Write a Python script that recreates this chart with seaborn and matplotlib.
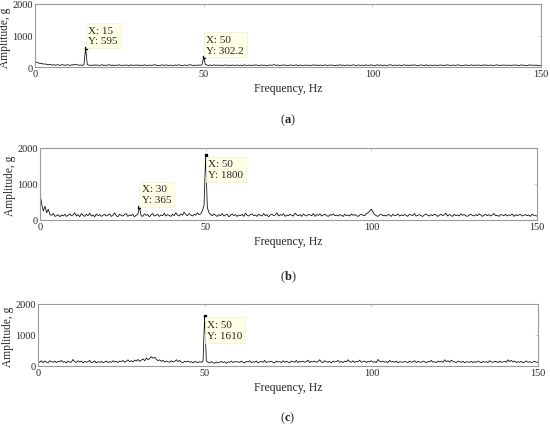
"""
Three vibration spectra (a), (b), (c) with MATLAB-style data tips.
"""

import numpy as np
import matplotlib
matplotlib.use("Agg")
import matplotlib.pyplot as plt
import seaborn as sns

# ---- data (amplitude in g, 0.5 Hz bins from 0 to 150 Hz) ----
freq_step = 0.5

amp_a = [
    180, 150, 130, 110, 120, 90, 100, 80, 70, 85, 60, 75, 55, 70, 65, 50, 80, 60, 55, 70,
    65, 50, 75, 60, 90, 70, 55, 65, 50, 70, 595, 80, 55, 60, 45, 70, 55, 65, 50, 60,
    70, 45, 60, 55, 75, 50, 65, 40, 60, 55, 70, 50, 45, 65, 55, 60, 40, 70, 50, 60,
    55, 65, 45, 60, 50, 70, 55, 45, 65, 50, 60, 75, 50, 55, 45, 65, 60, 50, 70, 45,
    60, 55, 45, 65, 50, 70, 60, 45, 55, 65, 50, 60, 75, 55, 45, 60, 50, 65, 55, 70,
    302.2, 80, 60, 50, 65, 45, 70, 55, 60, 50, 65, 45, 55, 70, 50, 60, 45, 65, 55, 50,
    65, 50, 60, 45, 70, 55, 50, 65, 45, 60, 55, 70, 50, 45, 65, 55, 60, 50, 45, 65,
    55, 60, 75, 50, 65, 45, 60, 55, 70, 50, 45, 60, 65, 50, 55, 70, 45, 60, 55, 50,
    65, 50, 60, 45, 55, 70, 50, 65, 45, 60, 55, 50, 70, 45, 60, 55, 65, 50, 45, 60,
    55, 70, 50, 60, 45, 65, 55, 50, 60, 70, 45, 55, 65, 50, 60, 45, 70, 55, 50, 65,
    60, 45, 55, 70, 50, 65, 45, 60, 55, 50, 65, 70, 45, 55, 60, 50, 65, 45, 55, 70,
    50, 60, 45, 65, 55, 70, 50, 45, 60, 65, 55, 50, 70, 45, 60, 55, 50, 65, 45, 60,
    55, 65, 50, 45, 70, 60, 55, 50, 65, 45, 60, 70, 50, 55, 45, 65, 60, 50, 55, 70,
    45, 60, 55, 65, 50, 45, 70, 55, 60, 50, 65, 45, 55, 60, 70, 50, 45, 65, 55, 60,
    50, 65, 45, 60, 55, 70, 50, 45, 65, 60, 55, 50, 45, 70, 55, 60, 50, 65, 45, 55,
    50,
]

amp_b = [
    720, 450, 250, 380, 200, 300, 150, 130, 180, 100, 120, 150, 90, 140, 110, 160, 100, 130, 170, 120,
    140, 200, 110, 150, 90, 180, 130, 100, 160, 120, 190, 110, 140, 90, 170, 120, 150, 100, 130, 160,
    110, 140, 170, 100, 130, 200, 120, 90, 160, 130, 110, 150, 180, 100, 140, 120, 160, 90, 130, 150,
    365, 120, 100, 170, 130, 150, 90, 140, 180, 110, 130, 160, 100, 140, 120, 190, 110, 150, 130, 100,
    160, 120, 200, 140, 110, 170, 130, 220, 150, 120, 180, 140, 110, 160, 130, 200, 150, 170, 250, 400,
    1800, 350, 200, 150, 120, 170, 130, 100, 150, 120, 180, 110, 140, 160, 90, 130, 170, 120, 150, 100,
    140, 120, 160, 100, 190, 130, 110, 150, 170, 120, 140, 100, 160, 130, 110, 180, 120, 150, 90, 140,
    160, 120, 140, 200, 110, 150, 130, 170, 100, 140, 120, 160, 130, 110, 190, 140, 120, 150, 100, 170,
    130, 110, 160, 140, 120, 180, 100, 150, 130, 170, 110, 140, 160, 120, 100, 150, 130, 170, 120, 140,
    110, 150, 130, 100, 160, 120, 140, 110, 170, 130, 150, 120, 100, 140, 160, 130, 120, 180, 200, 250,
    300, 220, 150, 120, 100, 140, 160, 120, 130, 110, 150, 140, 100, 160, 120, 130, 170, 110, 140, 120,
    150, 130, 100, 160, 140, 120, 180, 110, 130, 150, 120, 100, 140, 170, 130, 110, 150, 120, 160, 140,
    100, 130, 160, 120, 140, 190, 110, 150, 130, 100, 160, 120, 140, 110, 170, 130, 150, 120, 100, 140,
    160, 130, 110, 150, 120, 170, 140, 100, 130, 160, 120, 150, 110, 140, 180, 120, 130, 100, 150, 140,
    120, 160, 110, 140, 130, 170, 100, 150, 120, 140, 160, 110, 130, 150, 120, 140, 100, 160, 130, 120,
    110,
]

amp_c = [
    150, 120, 170, 110, 160, 130, 100, 170, 140, 120, 160, 110, 150, 130, 180, 120, 140, 100, 160, 130,
    120, 210, 140, 110, 170, 130, 160, 100, 150, 120, 140, 180, 110, 130, 160, 100, 140, 120, 150, 110,
    130, 160, 110, 140, 120, 170, 130, 150, 110, 160, 140, 180, 120, 150, 200, 140, 170, 130, 190, 160,
    210, 150, 190, 230, 170, 260, 200, 240, 300, 250, 280, 220, 170, 200, 150, 180, 130, 160, 140, 120,
    170, 130, 150, 200, 140, 180, 120, 110, 150, 130, 160, 120, 140, 100, 150, 130, 110, 140, 120, 150,
    1610, 160, 120, 100, 140, 110, 90, 130, 100, 120, 150, 110, 140, 90, 130, 120, 160, 110, 140, 130,
    140, 110, 160, 120, 100, 150, 130, 170, 110, 140, 120, 160, 100, 130, 150, 120, 180, 110, 140, 130,
    150, 120, 100, 160, 130, 140, 110, 170, 120, 150, 130, 100, 160, 140, 120, 180, 110, 150, 130, 160,
    120, 140, 190, 110, 150, 130, 160, 120, 140, 200, 130, 110, 170, 140, 120, 150, 100, 160, 130, 140,
    180, 120, 150, 110, 160, 130, 200, 140, 120, 170, 110, 150, 130, 190, 120, 140, 160, 110, 150, 130,
    170, 120, 140, 110, 210, 150, 130, 160, 120, 140, 110, 180, 130, 150, 120, 160, 100, 140, 130, 120,
    150, 130, 110, 160, 120, 140, 170, 110, 150, 130, 120, 160, 140, 100, 150, 130, 180, 120, 140, 110,
    160, 130, 150, 120, 200, 140, 170, 120, 190, 150, 130, 110, 160, 140, 120, 150, 100, 140, 130, 120,
    150, 110, 140, 120, 160, 130, 100, 150, 120, 140, 110, 170, 130, 120, 150, 140, 110, 160, 120, 130,
    150, 120, 200, 140, 180, 130, 160, 110, 140, 120, 150, 100, 130, 160, 120, 140, 110, 130, 150, 120,
    130,
]

# data tips: (x, y, label text, placement)
tips_a = [(15, 595, "X: 15\nY: 595", "above"), (50, 302.2, "X: 50\nY: 302.2", "above")]
tips_b = [(30, 365, "X: 30\nY: 365", "above"), (50, 1800, "X: 50\nY: 1800", "below")]
tips_c = [(50, 1610, "X: 50\nY: 1610", "below")]

panel_letters = ["a", "b", "c"]
x_ticks = [0, 50, 100, 150]
y_ticks = [0, 1000, 2000]

# ---- style ----
sns.set_style("white")
plt.rcParams["font.family"] = ["Liberation Serif", "DejaVu Serif"]
plt.rcParams["mathtext.fontset"] = "custom"
plt.rcParams["mathtext.rm"] = "Liberation Serif"
plt.rcParams["mathtext.bf"] = "Liberation Serif:bold"

W, H = 550, 427
fig = plt.figure(figsize=(W / 100, H / 100), dpi=100)

# axes boxes in pixels: left, top, right, bottom
boxes = [(35, 5, 541, 68), (40, 149, 537, 221), (38, 305, 538, 367)]
letter_y = [120, 277, 418]
series = [amp_a, amp_b, amp_c]
tips = [tips_a, tips_b, tips_c]

for box, amp, tip_list, letter, ly in zip(boxes, series, tips, panel_letters, letter_y):
    l, t, r, b = box
    ax = fig.add_axes([l / W, 1 - b / H, (r - l) / W, (b - t) / H])
    freq = np.arange(len(amp)) * freq_step
    sns.lineplot(x=freq, y=amp, ax=ax, color="black", linewidth=0.55)

    ax.set_xlim(0, 150)
    ax.set_ylim(0, 2000)
    ax.set_xticks(x_ticks)
    ax.set_yticks(y_ticks)
    ax.tick_params(direction="in", length=2.5, width=0.5, color="#bbbbbb",
                   labelsize=7.4, pad=1.5, top=True, right=True,
                   labeltop=False, labelright=False)
    for s in ax.spines.values():
        s.set_color("#9a9a9a")
        s.set_linewidth(0.8)
    ax.set_xlabel("Frequency, Hz", fontsize=8.5, labelpad=3)
    ax.set_ylabel("")
    # y label placed in pixels so it stays inside the figure
    fig.text((l - 30) / W, 1 - ((t + b) / 2 + 1) / H, "Amplitude, g", rotation=90,
             ha="center", va="center", fontsize=8.3)

    for x, y, txt, place in tip_list:
        ax.plot([x], [y], marker="s", markersize=2, color="black", linestyle="none")
        if place == "above":
            off, va = (2, 2), "bottom"
        else:
            off, va = (2, -3), "top"
        ax.annotate(txt, xy=(x, y), xytext=off, textcoords="offset points",
                    ha="left", va=va, fontsize=8, linespacing=1.25,
                    bbox=dict(boxstyle="square,pad=0.25", fc="#ffffe6",
                              ec="#eeeedd", lw=0.5))

    cx = ((l + r) / 2) / W
    fig.text(cx, 1 - ly / H, r"(" + r"$\mathbf{" + letter + r"}$" + ")",
             ha="center", va="center", fontsize=9)

fig.savefig("out.png", dpi=100)
